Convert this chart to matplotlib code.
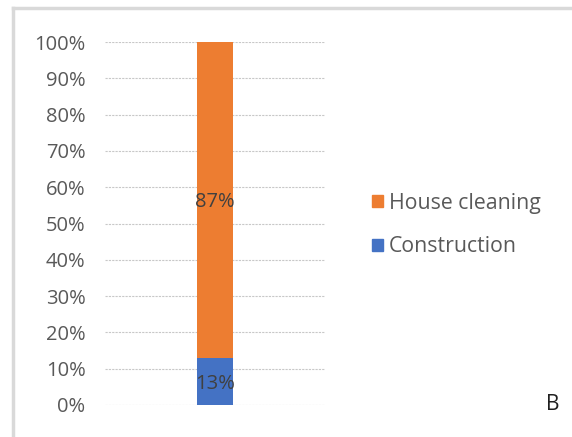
import matplotlib
matplotlib.use('Agg')
import matplotlib.pyplot as plt
from matplotlib.lines import Line2D
from matplotlib.patches import Patch

plt.rcParams['font.family'] = ['Open Sans', 'DejaVu Sans']

# Data
categories = ['']
construction = [0.13]
house_cleaning = [0.87]
series_names = ['Construction', 'House cleaning']
colors = ['#4472C4', '#ED7D31']
yticks = [0, 0.1, 0.2, 0.3, 0.4, 0.5, 0.6, 0.7, 0.8, 0.9, 1.0]
ytick_labels = ['0%', '10%', '20%', '30%', '40%', '50%', '60%', '70%', '80%', '90%', '100%']

W, H = 572, 437
fig = plt.figure(figsize=(W / 100, H / 100), dpi=100)
ax = fig.add_axes([105 / W, (H - 405) / H, 220 / W, 363 / H])

x = [0]
ax.bar(x, construction, width=0.168, color=colors[0], zorder=3)
ax.bar(x, house_cleaning, width=0.168, bottom=construction, color=colors[1], zorder=3)

# Data labels
for xi, c, h in zip(x, construction, house_cleaning):
    ax.text(xi, c / 2 - 0.008, f'{c:.0%}', ha='center', va='center', fontsize=14.5, color='#404040', zorder=4)
    ax.text(xi, c + h / 2 - 0.005, f'{h:.0%}', ha='center', va='center', fontsize=14.5, color='#404040', zorder=4)

ax.set_xlim(-0.5, 0.5)
ax.set_ylim(0, 1)
ax.set_xticks([])
ax.set_yticks(yticks)
ax.set_yticklabels(ytick_labels, fontsize=14.5, color='#595959')
ax.tick_params(axis='y', length=0, pad=14)
ax.grid(axis='y', color='#c8c8c8', linestyle=(0, (2, 1)), linewidth=0.8, zorder=0)
for s in ax.spines.values():
    s.set_visible(False)

# Legend
handles = [Patch(color=colors[1]), Patch(color=colors[0])]
fig.legend(handles, [series_names[1], series_names[0]], loc='center left',
           bbox_to_anchor=(353 / W, 1 - 225 / H), frameon=False, fontsize=15.3,
           handlelength=0.5, handleheight=0.5, handletextpad=0.3,
           labelspacing=1.05, labelcolor='#595959')

# Panel letter
fig.text(546 / W, 1 - 405 / H, 'B', fontsize=15, color='#202020', ha='left', va='center')

# Outer border (light grey)
fig.add_artist(Line2D([13 / W, 1], [1 - 8 / H, 1 - 8 / H], color='#d9d9d9', linewidth=2.5))
fig.add_artist(Line2D([13 / W, 13 / W], [0, 1 - 8 / H], color='#d9d9d9', linewidth=2.5))

fig.savefig('out.png', dpi=100)
